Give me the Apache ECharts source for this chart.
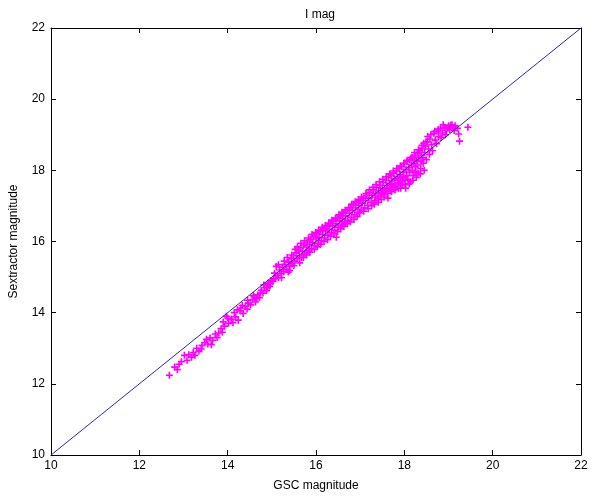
<!DOCTYPE html>
<html>
<head>
<meta charset="utf-8">
<script src="https://cdn.jsdelivr.net/npm/echarts@6/dist/echarts.min.js"></script>
<style>html,body{margin:0;padding:0;background:#fff}#c{width:600px;height:498px}</style>
</head>
<body>
<div id="c"></div>
<script>
var titleText = 'I mag';
var xName = 'GSC magnitude';
var yName = 'Sextractor magnitude';
var xTicks = [10, 12, 14, 16, 18, 20, 22];
var yTicks = [10, 12, 14, 16, 18, 20, 22];
var diagonal = [[10, 10], [22, 22]];

var tailPoints = [[12.68,12.24],[12.80,12.47],[12.86,12.40],[12.95,12.62],[13.02,12.80],[13.08,12.66],[13.18,12.75],[13.22,12.88],[13.30,13.00],[13.35,12.92],[13.42,13.08],[13.48,13.16],[13.55,13.12],[13.60,13.29],[13.66,13.22],[13.72,13.40],[13.80,13.43],[13.85,13.55],[13.90,13.74],[13.93,13.62],[13.97,13.90],[14.02,13.70],[14.08,13.82],[14.15,14.00],[14.18,13.88],[14.24,13.79],[14.28,14.05],[14.30,14.13],[14.35,13.98],[14.40,14.18],[14.44,14.10],[14.47,14.27],[14.52,14.22],[14.56,14.36],[14.60,14.44],[14.63,14.30],[14.68,14.50],[14.72,14.42],[14.76,14.63],[14.80,14.55]];

var tailExtra = [[12.90,12.55],[13.12,12.82],[13.26,12.80],[13.40,12.98],[13.52,13.25],[13.63,13.10],[13.76,13.30],[13.88,13.45],[14.00,13.85],[14.12,13.72],[14.22,14.08],[14.33,14.20],[14.45,14.35],[14.58,14.48],[14.66,14.40],[14.74,14.55],[14.82,14.78],[14.90,14.70],[14.97,14.82],[15.04,14.95]];

var lowerPoints = [[14.84,14.70],[14.88,14.62],[14.92,14.83],[14.95,14.74],[14.98,14.90],[15.02,14.88],[15.06,15.11],[15.08,14.96],[15.12,15.05],[15.15,14.98],[15.18,15.20],[15.21,15.10],[15.24,15.28],[15.27,15.16],[15.30,15.35],[15.33,15.22],[15.37,15.14],[15.38,15.42],[15.41,15.30],[15.44,15.52],[15.46,15.38],[15.49,15.60],[15.52,15.45]];

var midPoints = [[15.55,15.68],[15.57,15.52],[15.60,15.75],[15.62,15.60],[15.65,15.82],[15.67,15.55],[15.70,15.72],[15.72,15.90],[15.75,15.66],[15.78,15.85],[15.80,15.98],[15.82,15.74],[15.85,15.92],[15.87,16.05],[15.90,15.80],[15.92,15.98],[15.95,16.15],[15.97,15.88],[16.00,16.08],[16.02,16.22],[16.05,15.95],[16.07,16.12],[16.10,16.28],[16.12,16.02],[16.15,16.20],[16.17,16.35],[16.20,16.10],[16.22,16.30],[16.25,16.42],[16.27,16.18],[16.30,16.35],[16.32,16.50],[16.35,16.25],[16.37,16.44],[16.40,16.58],[16.42,16.32],[16.45,16.50],[16.46,16.12],[16.48,16.65],[16.50,16.40],[16.53,16.58],[16.55,16.72],[16.57,16.45],[16.60,16.65],[16.61,16.46],[16.62,16.80],[16.65,16.55],[16.67,16.72],[16.70,16.88],[16.72,16.60],[16.75,16.80],[16.77,16.95],[16.80,16.68],[16.82,16.88],[16.85,17.02],[16.87,16.75],[16.90,16.95],[16.92,17.10],[16.95,16.82],[16.97,17.02],[17.00,17.15]];

var midExtra = [[15.10,15.30],[15.15,15.35],[15.22,14.98],[15.28,15.45],[15.35,15.55],[15.40,15.18],[15.45,15.62],[15.50,15.32],[15.53,15.78],[15.58,15.85],[15.63,15.40],[15.66,15.95],[15.71,15.55],[15.74,16.02],[15.79,15.62],[15.83,16.10],[15.86,15.70],[15.91,16.20],[15.96,15.78],[15.99,16.25],[16.03,15.85],[16.06,16.32],[16.11,15.92],[16.14,16.40],[16.18,16.00],[16.21,16.45],[16.26,16.05],[16.29,16.52],[16.33,16.15],[16.36,16.60],[16.41,16.22],[16.44,16.65],[16.49,16.28],[16.52,16.75],[16.56,16.35],[16.59,16.82],[16.63,16.42],[16.66,16.88],[16.71,16.50],[16.74,16.95],[16.78,16.55],[16.81,17.05],[16.86,16.62],[16.89,17.12],[16.93,16.70],[16.96,17.18],[16.99,16.80]];

var upperPoints = [[17.02,16.90],[17.05,17.08],[17.07,17.22],[17.10,16.95],[17.12,17.15],[17.15,17.30],[17.17,17.02],[17.20,17.22],[17.22,17.38],[17.25,17.10],[17.27,17.30],[17.30,17.45],[17.32,17.05],[17.35,17.35],[17.37,17.52],[17.40,17.20],[17.42,17.42],[17.45,17.58],[17.47,17.36],[17.50,17.50],[17.52,17.66],[17.54,17.25],[17.56,17.45],[17.58,17.72],[17.60,17.58],[17.62,17.35],[17.64,17.80],[17.66,17.62],[17.68,17.45],[17.70,17.85],[17.72,17.70],[17.74,17.52],[17.76,17.92],[17.78,17.76],[17.80,17.55],[17.82,17.98],[17.84,17.82],[17.86,17.62],[17.88,18.05],[17.90,17.88],[17.92,17.50],[17.94,18.10],[17.96,17.70],[17.98,17.95],[18.00,18.18],[18.02,17.60],[18.04,18.02],[18.06,18.25],[18.08,17.75],[18.10,18.08],[18.12,18.30],[18.14,17.68],[18.16,18.15],[18.18,18.36],[18.20,17.85],[18.20,18.29],[18.22,18.20],[18.24,18.42],[18.26,17.95],[18.28,18.28],[18.30,18.48],[18.31,17.92],[18.33,18.35],[18.35,18.55],[18.37,18.05],[18.39,18.42],[18.41,18.62],[18.43,18.20],[18.44,18.76],[18.46,18.50],[18.48,18.68]];

var upperExtra = [[17.03,17.25],[17.08,16.85],[17.13,17.35],[17.18,16.92],[17.21,17.45],[17.26,17.00],[17.29,17.52],[17.33,17.15],[17.36,17.60],[17.41,17.10],[17.44,17.68],[17.48,17.18],[17.51,17.75],[17.55,17.32],[17.59,17.82],[17.63,17.22],[17.67,17.90],[17.71,17.40],[17.75,17.98],[17.79,17.45],[17.83,18.05],[17.87,17.50],[17.91,18.12],[17.95,17.58],[17.99,18.20],[18.03,17.50],[18.07,18.28],[18.11,17.62],[18.15,18.35],[18.19,17.72],[18.23,18.50],[18.27,17.80],[18.32,18.58],[18.36,17.90],[18.40,18.70],[18.45,18.00]];

var lobeFill = [[17.35,17.25],[17.45,17.30],[17.50,17.38],[17.55,17.40],[17.62,17.50],[17.70,17.60],[17.78,17.62],[17.85,17.72],[17.88,17.65],[17.92,17.78],[17.98,17.82],[18.02,17.72],[18.05,17.85],[18.12,17.95],[18.18,18.00],[18.25,18.10],[18.28,17.88],[18.30,18.15],[18.38,18.25],[18.42,18.35]];

var topPoints = [[18.49,18.80],[18.50,18.30],[18.52,18.80],[18.53,18.95],[18.55,18.60],[18.57,18.45],[18.58,18.88],[18.60,19.00],[18.62,18.72],[18.64,18.55],[18.67,19.04],[18.69,19.10],[18.70,18.85],[18.73,18.75],[18.74,19.10],[18.77,19.15],[18.78,18.95],[18.82,19.18],[18.83,18.92],[18.86,19.05],[18.88,19.28],[18.90,19.21],[18.93,19.00],[18.95,19.12],[18.98,19.18],[19.00,19.25],[19.03,19.15],[19.05,19.27],[19.08,19.28],[19.10,19.20],[19.13,19.12],[19.15,19.25],[19.20,19.18],[19.23,19.02],[19.25,18.82],[19.44,19.21]];

var allPoints = tailPoints.concat(tailExtra, lowerPoints, midPoints, midExtra, upperPoints, upperExtra, lobeFill, topPoints);

var chart = echarts.init(document.getElementById('c'), null, {renderer: 'canvas'});
var fontFam = 'Liberation Sans, Arial, sans-serif';
var axisCommon = {
  min: 10, max: 22, interval: 2,
  axisLine: {show: true, onZero: false, lineStyle: {color: '#000', width: 1}},
  axisTick: {show: true, inside: true, length: 5, lineStyle: {color: '#000'}},
  splitLine: {show: false}
};
chart.setOption({
  animation: false,
  backgroundColor: '#fff',
  title: {
    text: titleText, left: 315, top: 4, textAlign: 'center',
    textStyle: {fontFamily: fontFam, fontSize: 12, fontWeight: 'normal', color: '#000'}
  },
  grid: {left: 49, right: 19, top: 28, bottom: 43, show: false},
  xAxis: [
    Object.assign({}, axisCommon, {
      type: 'value', position: 'bottom',
      name: xName, nameLocation: 'middle', nameGap: 25,
      nameTextStyle: {fontFamily: fontFam, fontSize: 12, color: '#000'},
      axisLabel: {show: true, margin: 5, fontFamily: fontFam, fontSize: 12, color: '#000',
        formatter: function (v) { return xTicks.indexOf(v) >= 0 ? String(v) : ''; }}
    }),
    Object.assign({}, axisCommon, {
      type: 'value', position: 'top', axisLabel: {show: false}
    })
  ],
  yAxis: [
    Object.assign({}, axisCommon, {
      type: 'value', position: 'left',
      name: yName, nameLocation: 'middle', nameGap: 31,
      nameTextStyle: {fontFamily: fontFam, fontSize: 12, color: '#000'},
      axisLabel: {show: true, margin: 6, fontFamily: fontFam, fontSize: 12, color: '#000',
        formatter: function (v) { return yTicks.indexOf(v) >= 0 ? String(v) : ''; }}
    }),
    Object.assign({}, axisCommon, {
      type: 'value', position: 'right', axisLabel: {show: false}
    })
  ],
  series: [
    {
      type: 'scatter', xAxisIndex: 0, yAxisIndex: 0,
      data: allPoints,
      symbol: 'path://M2.3,0h1.4v2.3h2.3v1.4h-2.3v2.3h-1.4v-2.3h-2.3v-1.4h2.3z',
      symbolSize: 7,
      itemStyle: {color: '#ff00ff', opacity: 1},
      z: 2
    },
    {
      type: 'line', xAxisIndex: 0, yAxisIndex: 0,
      data: diagonal, symbol: 'none',
      lineStyle: {color: '#2a2a9c', width: 1},
      z: 3
    }
  ]
});
</script>
</body>
</html>
